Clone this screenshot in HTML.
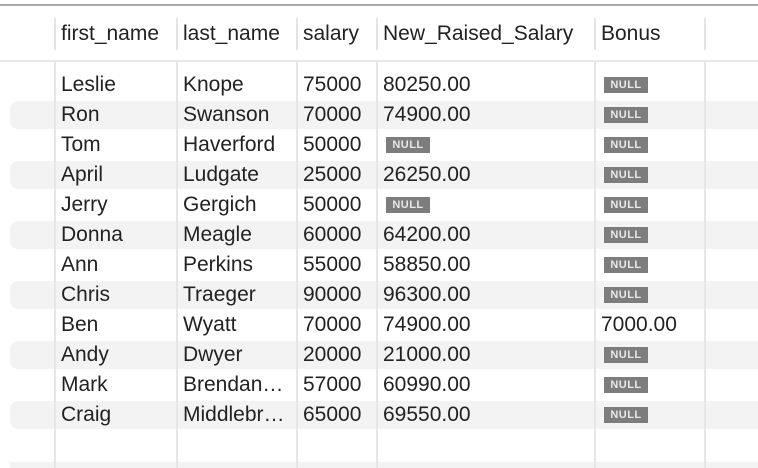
<!DOCTYPE html>
<html><head><meta charset="utf-8"><style>
body{margin:0;width:758px;height:468px;background:#fff;position:relative;overflow:hidden;font-family:"Liberation Sans",Helvetica,sans-serif;color:#222}
.abs{position:absolute}
.row{position:absolute;left:0;width:758px;height:28px}
.g{background:#f3f3f3;left:10px;border-radius:8px 0 0 8px;width:748px}
.vl{position:absolute;width:2px;background:#e6e6e6;top:62px;height:406px}
.hv{position:absolute;width:2px;background:#e4e4e4;top:18px;height:32px}
.t{position:absolute;font-size:21px;line-height:30px;white-space:nowrap}
.null{position:absolute;width:44px;height:16px;background:#7d7d7d;color:#e8e8e8;font-size:11px;font-weight:bold;line-height:16px;text-align:center;letter-spacing:0.5px}
</style></head><body>
<div class="abs" style="left:0;top:4px;width:758px;height:2px;background:#ababab"></div>
<div class="abs" style="left:0;top:60px;width:758px;height:2px;background:#e8e8e8"></div>
<div id="rows"></div>
<div class="abs" style="left:10px;top:462px;width:748px;height:6px;background:#f3f3f3"></div>
<div id="cols"></div>
<script>
const colX=[55,177,297,377,595,705];
const headers=["first_name","last_name","salary","New_Raised_Salary","Bonus"];
const first=["Leslie","Ron","Tom","April","Jerry","Donna","Ann","Chris","Ben","Andy","Mark","Craig"];
const last=["Knope","Swanson","Haverford","Ludgate","Gergich","Meagle","Perkins","Traeger","Wyatt","Dwyer","Brendan…","Middlebr…"];
const salary=["75000","70000","50000","25000","50000","60000","55000","90000","70000","20000","57000","65000"];
const raised=["80250.00","74900.00",null,"26250.00",null,"64200.00","58850.00","96300.00","74900.00","21000.00","60990.00","69550.00"];
const bonus=[null,null,null,null,null,null,null,null,"7000.00",null,null,null];
const R=document.getElementById('rows');
first.forEach((f,i)=>{
  const y=70+30*i;
  const r=document.createElement('div');
  r.className='row'+(i%2?' g':'');
  r.style.top=(y+1)+'px';
  
  
  R.appendChild(r);
  const vals=[f,last[i],salary[i],raised[i],bonus[i]];
  vals.forEach((v,c)=>{
    if(v===null){
      const n=document.createElement('div');n.className='null';n.textContent='NULL';
      n.style.left=(colX[c]+9)+'px';n.style.top=(y+7)+'px';
      
      
      R.appendChild(n);
    }else{
      const t=document.createElement('div');t.className='t';t.textContent=v;
      t.style.left=(colX[c]+6)+'px';t.style.top=y+'px';
      
      
      R.appendChild(t);
    }
  });
});
const C=document.getElementById('cols');
colX.forEach((x,c)=>{
  const v=document.createElement('div');v.className='vl';v.style.left=(x-1)+'px';
  
  
  C.appendChild(v);
  const h=document.createElement('div');h.className='hv';h.style.left=(x-1)+'px';
  
  
  C.appendChild(h);
  if(c<headers.length){
    const t=document.createElement('div');t.className='t';t.textContent=headers[c];
    t.style.left=(x+6)+'px';t.style.top='19px';
    
    
    C.appendChild(t);
  }
});
</script>
</body></html>
